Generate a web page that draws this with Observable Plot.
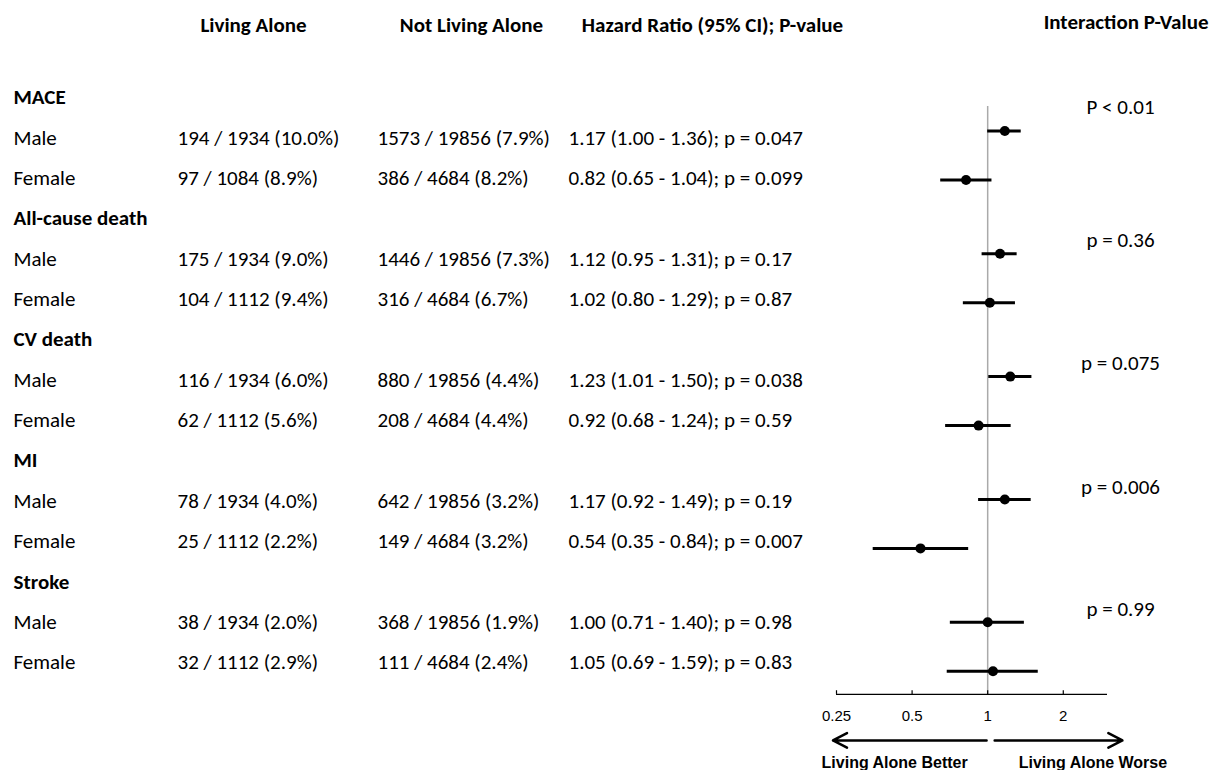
<!DOCTYPE html>
<html>
<head>
<meta charset="utf-8">
<script src="https://cdn.jsdelivr.net/npm/d3@7"></script>
<script src="https://cdn.jsdelivr.net/npm/@observablehq/plot@0.6"></script>
<style>
  html, body { margin: 0; padding: 0; background: #fff; }
  #chart svg { display: block; }
</style>
</head>
<body>
<div id="chart"></div>
<script>
// ---------------- data ----------------
const outcomes = ["MACE", "All-cause death", "CV death", "MI", "Stroke"];
const sexes = ["Male", "Female"];
const livingAlone = [
  "194 / 1934 (10.0%)", "97 / 1084 (8.9%)",
  "175 / 1934 (9.0%)", "104 / 1112 (9.4%)",
  "116 / 1934 (6.0%)", "62 / 1112 (5.6%)",
  "78 / 1934 (4.0%)", "25 / 1112 (2.2%)",
  "38 / 1934 (2.0%)", "32 / 1112 (2.9%)"
];
const notLivingAlone = [
  "1573 / 19856 (7.9%)", "386 / 4684 (8.2%)",
  "1446 / 19856 (7.3%)", "316 / 4684 (6.7%)",
  "880 / 19856 (4.4%)", "208 / 4684 (4.4%)",
  "642 / 19856 (3.2%)", "149 / 4684 (3.2%)",
  "368 / 19856 (1.9%)", "111 / 4684 (2.4%)"
];
const hazardRatio = [1.17, 0.82, 1.12, 1.02, 1.23, 0.92, 1.17, 0.54, 1.00, 1.05];
const ciLower     = [1.00, 0.65, 0.95, 0.80, 1.01, 0.68, 0.92, 0.35, 0.71, 0.69];
const ciUpper     = [1.36, 1.04, 1.31, 1.29, 1.50, 1.24, 1.49, 0.84, 1.40, 1.59];
const pValues = ["0.047", "0.099", "0.17", "0.87", "0.038", "0.59", "0.19", "0.007", "0.98", "0.83"];
const interactionP = ["P < 0.01", "p = 0.36", "p = 0.075", "p = 0.006", "p = 0.99"];
const columnHeaders = ["Living Alone", "Not Living Alone", "Hazard Ratio (95% CI); P-value"];
const interactionHeader = "Interaction P-Value";
const xTicks = [0.25, 0.5, 1, 2];
const directionLabels = ["Living Alone Better", "Living Alone Worse"];

// ---------------- layout (row units) ----------------
const GROUP_STEP = 3;           // table rows per outcome
const FOREST_STEP = 3.043;      // forest rows per outcome
const FOREST_START = 0.83;
const FOREST_FEMALE = 1.214;
const pOffset = [0.24, 0.54, 0.58, 0.66, 0.68];
const HEADER_ROW = -1.78, AXIS_ROW = 14.79, TICKLAB_ROW = 15.34, ARROW_ROW = 15.93, DIRLAB_ROW = 16.48;
const FONT = "Carlito, Calibri, 'Open Sans', sans-serif";
const AFONT = "'Liberation Sans', Arial, sans-serif";
const FS = 21;

const groupRows = outcomes.map((o, g) => ({label: o, row: g * GROUP_STEP}));
const subRows = [];
outcomes.forEach((o, g) => sexes.forEach((s, k) => {
  const i = g * 2 + k;
  subRows.push({
    sex: s,
    row: g * GROUP_STEP + 1 + k,
    la: livingAlone[i],
    nla: notLivingAlone[i],
    hrText: `${hazardRatio[i].toFixed(2)} (${ciLower[i].toFixed(2)} - ${ciUpper[i].toFixed(2)}); p = ${pValues[i]}`,
    hr: hazardRatio[i], lo: ciLower[i], hi: ciUpper[i],
    fy: FOREST_START + g * FOREST_STEP + k * FOREST_FEMALE
  });
}));
const interRows = interactionP.map((p, g) => ({text: p, row: g * GROUP_STEP + pOffset[g]}));
const headerRows = columnHeaders.map((h, j) => ({text: h, dx: [253, 471, 712][j]}));

const chart = Plot.plot({
  width: 1217, height: 770,
  marginTop: 0, marginBottom: 0, marginLeft: 0, marginRight: 0,
  x: {type: "log", domain: [0.25, 3], range: [836, 1107], axis: null},
  y: {type: "linear", domain: [0, 14], range: [97, 662], axis: null},
  style: {background: "#fff", color: "#000", overflow: "visible"},
  marks: [
    // headers
    ...headerRows.map(h => Plot.text([h], {y: () => HEADER_ROW, text: "text", frameAnchor: "left", dx: h.dx,
      textAnchor: "middle", fontFamily: FONT, fontSize: FS, fontWeight: "bold", fill: "#000"})),
    Plot.text([interactionHeader], {y: () => HEADER_ROW - 0.08, text: d => d, frameAnchor: "left", dx: 1208,
      textAnchor: "end", fontFamily: FONT, fontSize: FS, fontWeight: "bold", fill: "#000"}),
    // outcome group labels
    Plot.text(groupRows, {y: "row", text: "label", frameAnchor: "left", dx: 13, textAnchor: "start",
      fontFamily: FONT, fontSize: FS, fontWeight: "bold", fill: "#000"}),
    // sub rows
    Plot.text(subRows, {y: "row", text: "sex", frameAnchor: "left", dx: 13, textAnchor: "start",
      fontFamily: FONT, fontSize: FS, fill: "#000"}),
    Plot.text(subRows, {y: "row", text: "la", frameAnchor: "left", dx: 177, textAnchor: "start",
      fontFamily: FONT, fontSize: FS, fill: "#000"}),
    Plot.text(subRows, {y: "row", text: "nla", frameAnchor: "left", dx: 377, textAnchor: "start",
      fontFamily: FONT, fontSize: FS, fill: "#000"}),
    Plot.text(subRows, {y: "row", text: "hrText", frameAnchor: "left", dx: 568, textAnchor: "start",
      fontFamily: FONT, fontSize: FS, fill: "#000"}),
    // interaction p
    Plot.text(interRows, {y: "row", text: "text", frameAnchor: "left", dx: 1120, textAnchor: "middle",
      fontFamily: FONT, fontSize: FS, fill: "#000"}),
    // reference line at HR = 1
    Plot.ruleX([1], {y1: 0.22, y2: AXIS_ROW, stroke: "#aaa", strokeWidth: 1.5}),
    // CIs and points
    Plot.ruleY(subRows, {y: "fy", x1: "lo", x2: "hi", stroke: "#000", strokeWidth: 3}),
    Plot.dot(subRows, {y: "fy", x: "hr", r: 5, fill: "#000", stroke: "none"}),
    // axis
    Plot.ruleY([AXIS_ROW], {x1: 0.25, x2: 3, stroke: "#000", strokeWidth: 1.2}),
    Plot.ruleX(xTicks, {x: d => d, y1: AXIS_ROW, y2: AXIS_ROW - 0.09, stroke: "#000", strokeWidth: 1.2}),
    Plot.text(xTicks, {x: d => d, y: () => TICKLAB_ROW, text: d => String(d), fontFamily: AFONT, fontSize: 15, fill: "#000"}),
    // direction arrows
    Plot.arrow([{a: 0.99, b: 0.242}, {a: 1.066, b: 3.44}], {x1: "a", x2: "b", y1: () => ARROW_ROW, y2: () => ARROW_ROW,
      stroke: "#000", strokeWidth: 2.5, headLength: 9.5, headAngle: 55}),
    Plot.text([directionLabels[0]], {x: () => 1, y: () => DIRLAB_ROW, text: d => d, dx: -20, textAnchor: "end",
      fontFamily: AFONT, fontSize: 16, fontWeight: "bold", fill: "#000"}),
    Plot.text([directionLabels[1]], {x: () => 1, y: () => DIRLAB_ROW, text: d => d, dx: 31, textAnchor: "start",
      fontFamily: AFONT, fontSize: 16, fontWeight: "bold", fill: "#000"})
  ]
});
document.getElementById("chart").appendChild(chart);
</script>
</body>
</html>
